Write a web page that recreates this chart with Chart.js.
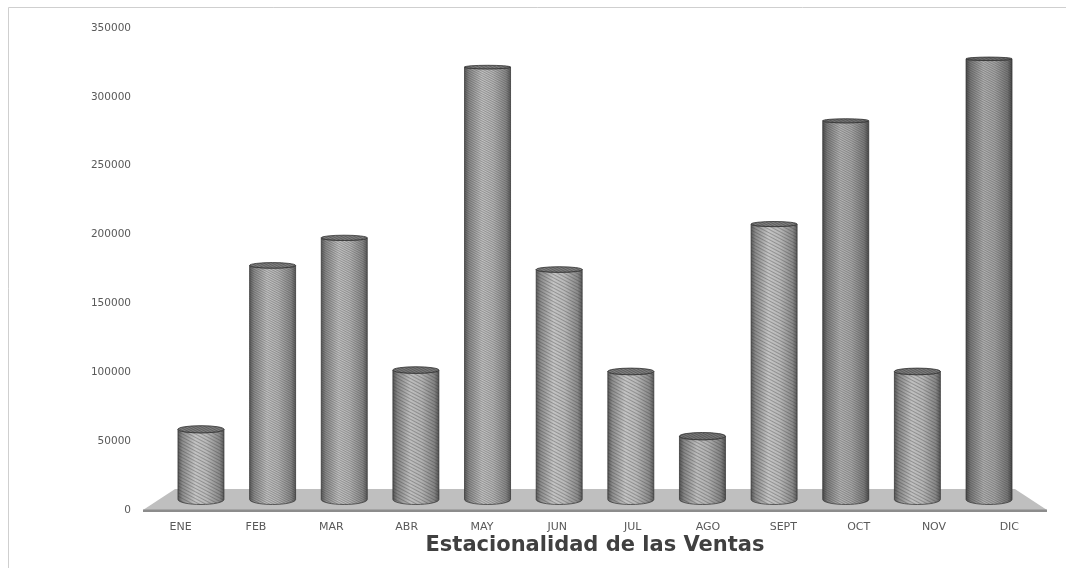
<!DOCTYPE html>
<html>
<head>
<meta charset="utf-8">
<script src="https://cdn.jsdelivr.net/npm/chart.js@4.4.0/dist/chart.umd.min.js"></script>
<style>
  html, body { margin: 0; padding: 0; background: #ffffff; }
  #wrap { position: relative; width: 1066px; height: 568px; }
  canvas { display: block; }
</style>
</head>
<body>
<div id="wrap"><canvas id="grafico" width="1066" height="568"></canvas></div>
<script>
// Ventas mensuales
const meses = ['ENE', 'FEB', 'MAR', 'ABR', 'MAY', 'JUN', 'JUL', 'AGO', 'SEPT', 'OCT', 'NOV', 'DIC'];
const ventas = [51000, 170000, 190000, 94000, 314000, 167000, 93000, 46000, 200000, 275000, 93000, 320000];
const ejeYMin = 0;
const ejeYMax = 350000;
const ejeYPaso = 50000;
const tituloEje = 'Estacionalidad de las Ventas';

// Textura de cada cilindro: separación de las rayas (px) y tono del cuerpo
const rayas = [3, 2, 2, 3, 2, 3, 3, 3, 3, 2, 3, 2];
const tonos = [0, 0, 0, -6, 0, 0, 0, -8, 0, -14, -4, -18];

const PROF = 21;         // profundidad del piso
const PERSP = 0.951;     // reducción horizontal a media profundidad

function gris(v) { v = Math.max(0, Math.min(255, Math.round(v))); return 'rgb(' + v + ',' + v + ',' + v + ')'; }

function patronRayas(ctx, gap, alpha) {
  const c = document.createElement('canvas');
  c.width = 8; c.height = gap;
  const g = c.getContext('2d');
  g.fillStyle = 'rgba(50,50,50,' + alpha + ')';
  g.fillRect(0, 0, 8, 1);
  const p = ctx.createPattern(c, 'repeat');
  p.setTransform(new DOMMatrix().rotateSelf(28));
  return p;
}

function cilindro(ctx, cx, w, yTop, yBot, gap, tono) {
  const rx = w / 2;
  const ryT = 1.6 + Math.max(0, (yTop - 28)) / 480 * 2.4;
  const ryB = 5;

  // cuerpo
  ctx.save();
  ctx.beginPath();
  ctx.moveTo(cx - rx, yTop);
  ctx.lineTo(cx - rx, yBot);
  ctx.ellipse(cx, yBot, rx, ryB, 0, Math.PI, 0, true);
  ctx.lineTo(cx + rx, yTop);
  ctx.ellipse(cx, yTop, rx, ryT, 0, 0, Math.PI, false);
  ctx.closePath();
  const grad = ctx.createLinearGradient(cx - rx, 0, cx + rx, 0);
  grad.addColorStop(0, gris(92 + tono));
  grad.addColorStop(0.1, gris(140 + tono));
  grad.addColorStop(0.38, gris(196 + tono));
  grad.addColorStop(0.62, gris(184 + tono));
  grad.addColorStop(0.9, gris(138 + tono));
  grad.addColorStop(1, gris(90 + tono));
  ctx.fillStyle = grad;
  ctx.fill();
  ctx.fillStyle = patronRayas(ctx, gap, 0.32);
  ctx.fill();
  ctx.lineWidth = 1;
  ctx.strokeStyle = 'rgba(55,55,55,0.75)';
  ctx.stroke();
  ctx.restore();

  // tapa
  ctx.save();
  ctx.beginPath();
  ctx.ellipse(cx, yTop, rx, ryT, 0, 0, Math.PI * 2);
  ctx.fillStyle = gris(130 + tono);
  ctx.fill();
  ctx.fillStyle = patronRayas(ctx, 2, 0.45);
  ctx.fill();
  ctx.lineWidth = 1;
  ctx.strokeStyle = 'rgba(50,50,50,0.8)';
  ctx.stroke();
  ctx.restore();
}

const pluginEscena = {
  id: 'escena3d',
  beforeDraw(chart) {
    const ctx = chart.ctx;
    ctx.save();
    ctx.strokeStyle = '#cfcfcf';
    ctx.lineWidth = 1;
    ctx.beginPath();
    ctx.moveTo(8.5, chart.height + 2);
    ctx.lineTo(8.5, 7.5);
    ctx.lineTo(chart.width + 2, 7.5);
    ctx.stroke();
    ctx.restore();
  },
  beforeDatasetsDraw(chart) {
    // piso gris
    const ctx = chart.ctx;
    const a = chart.chartArea;
    const y0 = chart.scales.y.getPixelForValue(0);
    const inset = (a.right - a.left) * (1 - 0.929) / 2;
    ctx.save();
    ctx.beginPath();
    ctx.moveTo(a.left, y0);
    ctx.lineTo(a.left + inset, y0 - PROF);
    ctx.lineTo(a.right - inset, y0 - PROF);
    ctx.lineTo(a.right, y0);
    ctx.closePath();
    ctx.fillStyle = '#bfbfbf';
    ctx.fill();
    ctx.fillStyle = '#8c8c8c';
    ctx.fillRect(a.left, y0 - 0.5, a.right - a.left, 2.5);
    ctx.restore();
  },
  afterDatasetsDraw(chart) {
    const ctx = chart.ctx;
    const a = chart.chartArea;
    const mid = (a.left + a.right) / 2;
    const meta = chart.getDatasetMeta(0);
    const off = PROF / 2;
    meta.data.forEach((el, i) => {
      const p = el.getProps(['x', 'y', 'base', 'width'], true);
      const cx = mid + (p.x - mid) * PERSP;
      cilindro(ctx, cx, p.width * PERSP, p.y - off, p.base - off, rayas[i], tonos[i]);
    });
  }
};

new Chart(document.getElementById('grafico'), {
  type: 'bar',
  data: {
    labels: meses,
    datasets: [{
      label: 'Ventas',
      data: ventas,
      backgroundColor: 'rgba(0,0,0,0)',
      borderWidth: 0,
      categoryPercentage: 1,
      barPercentage: 0.642
    }]
  },
  options: {
    responsive: false,
    animation: false,
    devicePixelRatio: 1,
    layout: { padding: { top: 28, right: 19, left: 0, bottom: 0 } },
    plugins: { legend: { display: false }, tooltip: { enabled: false }, title: { display: false } },
    scales: {
      x: {
        offset: true,
        grid: { display: false, drawTicks: false },
        border: { display: false },
        ticks: { color: '#595959', font: { family: 'DejaVu Sans', size: 11 }, padding: 11, maxRotation: 0 },
        title: {
          display: true,
          text: tituloEje,
          color: '#404040',
          font: { family: 'DejaVu Sans', size: 21, weight: 'bold' },
          padding: { top: 0, bottom: 10 }
        },
        afterFit(s) { s.height = 58; }
      },
      y: {
        min: ejeYMin,
        max: ejeYMax,
        grid: { display: false, drawTicks: false },
        border: { display: false },
        ticks: {
          stepSize: ejeYPaso,
          color: '#595959',
          font: { family: 'DejaVu Sans', size: 10.5 },
          padding: 12,
          callback: (v) => String(v)
        },
        afterFit(s) { s.width = 143; }
      }
    }
  },
  plugins: [pluginEscena]
});
</script>
</body>
</html>
